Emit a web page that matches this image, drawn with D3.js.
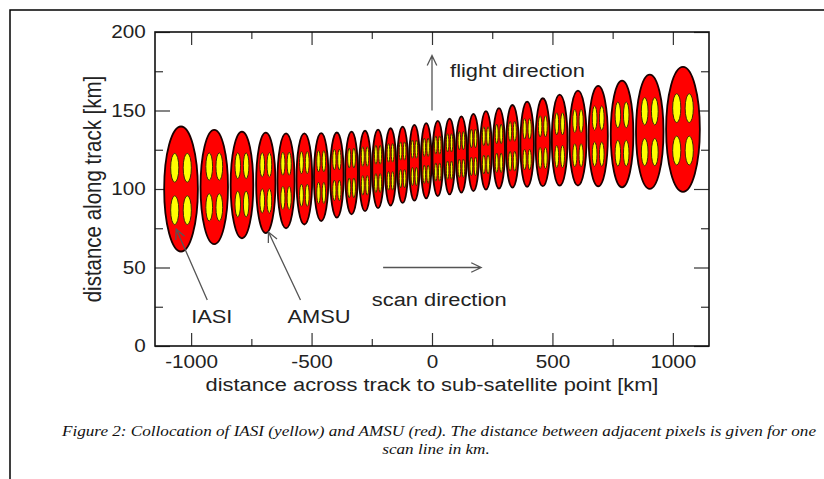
<!DOCTYPE html>
<html>
<head>
<meta charset="utf-8">
<script src="https://cdn.jsdelivr.net/npm/d3@7/dist/d3.min.js"></script>
<style>
body { margin: 0; background: #fff; }
svg text { font-family: "Liberation Sans", Arial, Helvetica, sans-serif; fill: #222; }
.caption { font-family: "Liberation Serif", "Times New Roman", serif; font-style: italic; font-size: 15px; fill: #111; }
</style>
</head>
<body>
<div id="main"></div>
<script>
var WIDTH = 824, HEIGHT = 479;
var margin = {top: 32, right: 115, bottom: 133, left: 155};

// AMSU footprints (red), one scan line, left to right, km
var amsuX  = [-1042, -904, -789, -690, -606, -530, -460, -395, -334, -278, -224, -172, -122, -73, -24,
              24, 73, 122, 172, 224, 278, 334, 395, 460, 530, 606, 690, 789, 904, 1042];
var amsuY  = [100, 101.3, 102.6, 103.9, 105.2, 106.4, 107.6, 108.9, 110.2, 111.5, 112.8, 114.1, 115.4, 116.7, 118,
              119.4, 120.7, 122, 123.3, 124.6, 125.9, 127.2, 128.5, 129.8, 131.1, 132.4, 133.7, 135, 136.5, 138];
var amsuRx = [70, 57, 47, 40, 35.5, 32.5, 30, 28, 26.3, 25, 24, 23.2, 22.6, 22.2, 22,
              22, 22.2, 22.6, 23.2, 24, 25, 26.3, 28, 30, 32.5, 35.5, 40, 47, 57, 70];
var amsuRy = [39.8, 36.4, 34, 32, 30.2, 29, 28, 27.1, 26.3, 25.6, 25, 24.6, 24.3, 24.1, 24,
              24, 24.1, 24.3, 24.6, 25, 25.6, 26.3, 27.1, 28, 29, 30.2, 32, 34, 36.4, 39.8];

// IASI pixels (yellow), 2x2 inside each AMSU footprint: offsets and radii, km
var iasiDx = [26, 21, 17.4, 14.8, 13.1, 12, 11.1, 10.4, 9.7, 9.3, 8.9, 8.6, 8.4, 8.2, 8.1,
              8.1, 8.2, 8.4, 8.6, 8.9, 9.3, 9.7, 10.4, 11.1, 12, 13.1, 14.8, 17.4, 21, 26];
var iasiDy = [13.5, 13, 12.2, 11.5, 10.9, 10.4, 10.1, 9.8, 9.5, 9.2, 9, 8.9, 8.8, 8.7, 8.6,
              8.6, 8.7, 8.8, 8.9, 9, 9.2, 9.5, 9.8, 10.1, 10.4, 10.9, 11.5, 12.2, 13, 13.5];
var iasiRx = [17, 14, 11.5, 9.8, 8.7, 8, 7.3, 6.9, 6.4, 6.1, 5.9, 5.7, 5.5, 5.4, 5.4,
              5.4, 5.4, 5.5, 5.7, 5.9, 6.1, 6.4, 6.9, 7.3, 8, 8.7, 9.8, 11.5, 14, 17];
var iasiRy = [9.2, 8.7, 8.2, 7.7, 7.3, 7, 6.7, 6.5, 6.3, 6.2, 6, 5.9, 5.8, 5.8, 5.8,
              5.8, 5.8, 5.8, 5.9, 6, 6.2, 6.3, 6.5, 6.7, 7, 7.3, 7.7, 8.2, 8.7, 9.2];

var xTicks = [-1000, -500, 0, 500, 1000];
var xMinor = [-750, -250, 250, 750];
var yTicks = [0, 50, 100, 150, 200];
var yMinor = [25, 75, 125, 175];

var SX = 1.15;   // the source figure is stretched sideways

var svg = d3.select("#main").append("svg")
	.attr("width", WIDTH)
	.attr("height", HEIGHT);

var x = d3.scaleLinear().domain([-1150, 1150]).range([margin.left, WIDTH - margin.right]);
var y = d3.scaleLinear().domain([0, 200]).range([HEIGHT - margin.bottom, margin.top]);
var kx = x(1) - x(0), ky = y(0) - y(1);

// page border (left and top)
svg.append("path")
	.attr("d", "M10," + HEIGHT + "L10,10L" + WIDTH + ",10")
	.attr("fill", "none")
	.attr("stroke", "#000")
	.attr("stroke-width", 1.5);

function plain(d) { return String(d); }

function ticks(axis, tx, ty, size, values, labels) {
	var g = svg.append("g")
		.attr("transform", "translate(" + tx + "," + ty + ")")
		.call(axis.tickValues(values).tickSize(-size).tickSizeOuter(0));
	g.select(".domain").remove();
	g.selectAll("line").attr("stroke", "#333").attr("stroke-width", 1.2);
	if (!labels) g.selectAll("text").remove();
	else g.selectAll("text")
		.attr("transform", "scale(" + SX + ",1)")
		.style("font-size", "18px")
		.style("font-family", '"Liberation Sans", Arial, sans-serif')
		.attr("fill", "#222");
	return g;
}

var plotBottom = y(0), plotTop = y(200), plotLeft = x.range()[0], plotRight = x.range()[1];
ticks(d3.axisBottom(x).tickPadding(9).tickFormat(plain), 0, plotBottom, 13, xTicks, true);
ticks(d3.axisBottom(x).tickFormat(""), 0, plotBottom, 7, xMinor, false);
ticks(d3.axisTop(x).tickFormat(""), 0, plotTop, 13, xTicks, false);
ticks(d3.axisTop(x).tickFormat(""), 0, plotTop, 7, xMinor, false);
ticks(d3.axisLeft(y).tickPadding(8).tickFormat(plain), plotLeft, 0, 15, yTicks, true);
ticks(d3.axisLeft(y).tickFormat(""), plotLeft, 0, 8, yMinor, false);
ticks(d3.axisRight(y).tickFormat(""), plotRight, 0, 15, yTicks, false);
ticks(d3.axisRight(y).tickFormat(""), plotRight, 0, 8, yMinor, false);

// footprints
var idx = d3.range(amsuX.length);
var fp = svg.append("g").attr("id", "footprints");
fp.selectAll("ellipse.amsu").data(idx).join("ellipse")
	.attr("class", "amsu")
	.attr("cx", function(i) { return x(amsuX[i]); })
	.attr("cy", function(i) { return y(amsuY[i]); })
	.attr("rx", function(i) { return amsuRx[i] * kx; })
	.attr("ry", function(i) { return amsuRy[i] * ky; })
	.attr("fill", "#ff0000")
	.attr("stroke", "#1a0000")
	.attr("stroke-width", 1.8);

var quad = [[-1, -1], [1, -1], [-1, 1], [1, 1]];
var pix = [];
idx.forEach(function(i) {
	quad.forEach(function(q) { pix.push({i: i, sx: q[0], sy: q[1]}); });
});
fp.selectAll("ellipse.iasi").data(pix).join("ellipse")
	.attr("class", "iasi")
	.attr("cx", function(d) { return x(amsuX[d.i] + d.sx * iasiDx[d.i]); })
	.attr("cy", function(d) { return y(amsuY[d.i] + d.sy * iasiDy[d.i]); })
	.attr("rx", function(d) { return iasiRx[d.i] * kx; })
	.attr("ry", function(d) { return iasiRy[d.i] * ky; })
	.attr("fill", "#ffff00")
	.attr("stroke", "#3a2a00")
	.attr("stroke-width", 1);

// frame
svg.append("rect")
	.attr("x", plotLeft).attr("y", plotTop)
	.attr("width", plotRight - plotLeft).attr("height", plotBottom - plotTop)
	.attr("fill", "none")
	.attr("stroke", "#111")
	.attr("stroke-width", 1.6);

// text helpers
function label(txt, px, py, anchor, size) {
	return svg.append("text")
		.attr("transform", "translate(" + px + "," + py + ") scale(" + SX + ",1)")
		.attr("text-anchor", anchor)
		.style("font-size", size + "px")
		.text(txt);
}

function arrow(x1, y1, x2, y2) {
	var a = Math.atan2(y2 - y1, x2 - x1), h = 11, w = 0.45;
	var p = "M" + x1 + "," + y1 + "L" + x2 + "," + y2 +
		"M" + (x2 - h * Math.cos(a - w)) + "," + (y2 - h * Math.sin(a - w)) +
		"L" + x2 + "," + y2 +
		"L" + (x2 - h * Math.cos(a + w)) + "," + (y2 - h * Math.sin(a + w));
	svg.append("path").attr("d", p)
		.attr("fill", "none")
		.attr("stroke", "#555")
		.attr("stroke-width", 1.3);
}

label("distance across track to sub-satellite point [km]", x(0), 391, "middle", 19);
svg.append("text")
	.attr("transform", "translate(101,189) rotate(-90) scale(1," + SX + ")")
	.attr("text-anchor", "middle")
	.style("font-size", "20.5px")
	.text("distance along track [km]");

// annotations
arrow(x(0), y(150), x(0), y(185));
label("flight direction", x(75), y(171.5), "start", 19);
arrow(x(-203), y(50), x(204), y(50));
label("scan direction", x(-250), y(25.5), "start", 19);
arrow(x(-933), y(29.3), x(-1062), y(74.5));
label("IASI", x(-1000), y(14.5), "start", 19);
arrow(x(-546), y(29.3), x(-679), y(72.6));
label("AMSU", x(-600), y(14.5), "start", 19);

// caption, stretched like the source
var cap1 = svg.append("text").attr("class", "caption")
	.attr("x", 439).attr("y", 436)
	.attr("text-anchor", "middle")
	.text("Figure 2: Collocation of IASI (yellow) and AMSU (red). The distance between adjacent pixels is given for one");
var cap2 = svg.append("text").attr("class", "caption")
	.attr("x", 436).attr("y", 454)
	.attr("text-anchor", "middle")
	.text("scan line in km.");
var stretch = 754 / cap1.node().getComputedTextLength();
[cap1, cap2].forEach(function(t) {
	t.attr("textLength", t.node().getComputedTextLength() * stretch)
		.attr("lengthAdjust", "spacingAndGlyphs");
});
</script>
</body>
</html>
